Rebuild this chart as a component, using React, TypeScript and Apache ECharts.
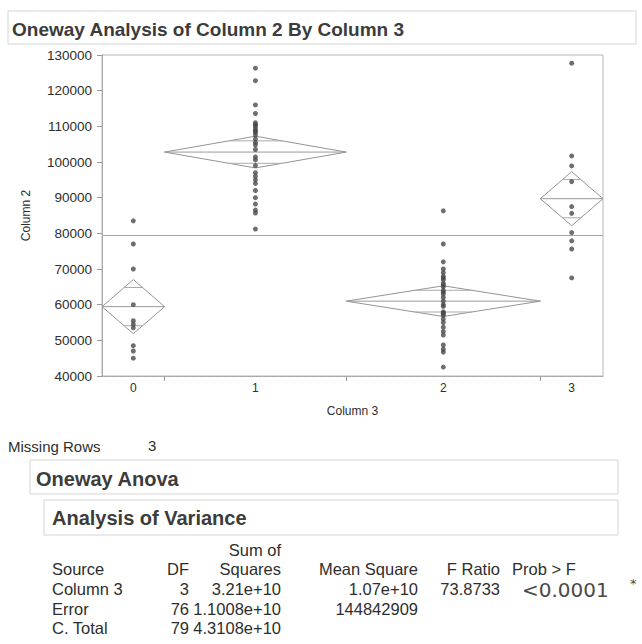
import React, { useEffect, useRef } from "react";
import * as echarts from "echarts";

// ---- data ----
const groupNames = ["0", "1", "2", "3"];
const group0Values = [83500, 77000, 70000, 60000, 55500, 54500, 53500, 48500, 47000, 45000];
const group1Values = [
  126300, 122800, 116000, 113600, 111000, 110500, 110300, 109700, 109000, 108700,
  108300, 107600, 106500, 105500, 104800, 103500, 101400, 100600, 99000, 97000,
  96000, 95000, 94000, 92000, 90000, 88200, 86500, 85700, 81200,
];
const group2Values = [
  86300, 77000, 72000, 70000, 69000, 68000, 67500, 67000, 66000, 65500, 65000,
  64000, 63500, 63000, 62000, 61000, 60000, 59500, 58000, 57500, 57700, 57000,
  56000, 55000, 53700, 52500, 51500, 48700, 47500, 46700, 42500,
];
const group3Values = [127700, 101700, 98900, 94500, 87500, 85600, 80200, 77900, 75600, 67500];

const yMin = 40000;
const yMax = 130000;
const yInterval = 10000;

const titleText = "Oneway Analysis of Column 2 By Column 3";
const yAxisName = "Column 2";
const xAxisName = "Column 3";
const missingRowsLabel = "Missing Rows";
const missingRowsValue = "3";
const anovaHeading = "Oneway Anova";
const varianceHeading = "Analysis of Variance";
const headerTopRow = ["", "", "Sum of", "", "", ""];
const headerRow = ["Source", "DF", "Squares", "Mean Square", "F Ratio", "Prob > F"];
const sourceCol = ["Column 3", "Error", "C. Total"];
const dfCol = ["3", "76", "79"];
const ssCol = ["3.21e+10", "1.1008e+10", "4.3108e+10"];
const msCol = ["1.07e+10", "144842909", ""];
const fCol = ["73.8733", "", ""];
const probNote = "<0.0001";
const probStar = "*";
const mseValue = 144842909;
const tCritical = 1.9917;

const FONT = "Liberation Sans, Arial, sans-serif";

export default function App() {
  const ref = useRef<HTMLDivElement>(null);

  useEffect(() => {
    if (!ref.current) return;
    const chart = echarts.init(ref.current, null, { renderer: "svg" });

    const groups = [group0Values, group1Values, group2Values, group3Values];
    const counts = groups.map((g) => g.length);
    const total = counts.reduce((a, b) => a + b, 0);
    const bounds: number[] = [0];
    counts.forEach((n) => bounds.push(bounds[bounds.length - 1] + n));
    const centers = counts.map((_, i) => (bounds[i] + bounds[i + 1]) / 2);
    const means = groups.map((g) => g.reduce((a, b) => a + b, 0) / g.length);
    const grandMean = groups.flat().reduce((a, b) => a + b, 0) / total;
    const ci = counts.map((n) => tCritical * Math.sqrt(mseValue / n));

    const scatterData = groups.flatMap((g, i) => g.map((v) => [centers[i], v]));
    const diamondData = groups.map((_, i) => [bounds[i], bounds[i + 1], means[i], ci[i]]);

    const grey = "#949494";

    const renderDiamond = (params: any, api: any) => {
      const l = api.value(0);
      const r = api.value(1);
      const m = api.value(2);
      const h = api.value(3);
      const c = (l + r) / 2;
      const pL = api.coord([l, m]);
      const pR = api.coord([r, m]);
      const pT = api.coord([c, m + h]);
      const pB = api.coord([c, m - h]);
      const ov = h * Math.SQRT1_2;
      const hw = ((1 - Math.SQRT1_2) * (r - l)) / 2;
      const o1a = api.coord([c - hw, m + ov]);
      const o1b = api.coord([c + hw, m + ov]);
      const o2a = api.coord([c - hw, m - ov]);
      const o2b = api.coord([c + hw, m - ov]);
      return {
        type: "group",
        children: [
          {
            type: "polygon",
            shape: { points: [pL, pT, pR, pB] },
            style: { fill: "none", stroke: grey, lineWidth: 1 },
          },
          {
            type: "line",
            shape: { x1: pL[0], y1: pL[1], x2: pR[0], y2: pR[1] },
            style: { stroke: "#9a9a9a", lineWidth: 1 },
          },
          {
            type: "line",
            shape: { x1: o1a[0], y1: o1a[1], x2: o1b[0], y2: o1b[1] },
            style: { stroke: "#aaaaaa", lineWidth: 1 },
          },
          {
            type: "line",
            shape: { x1: o2a[0], y1: o2a[1], x2: o2b[0], y2: o2b[1] },
            style: { stroke: "#aaaaaa", lineWidth: 1 },
          },
        ],
      };
    };

    // ---- graphic texts / boxes ----
    const textColor = "#2e2e2e";
    const graphics: any[] = [];
    graphics.push({
      type: "rect",
      shape: { x: 8, y: 11, width: 628, height: 33 },
      style: { fill: "none", stroke: "#d4d4d4", lineWidth: 1 },
    });
    graphics.push({
      type: "text",
      x: 12,
      y: 29,
      style: {
        text: titleText,
        fontFamily: FONT,
        fontSize: 19,
        fontWeight: "bold",
        fill: "#3c3c3c",
        textVerticalAlign: "middle",
      },
    });
    graphics.push({
      type: "text",
      x: 8,
      y: 446,
      style: { text: missingRowsLabel, fontFamily: FONT, fontSize: 15, fill: textColor, textVerticalAlign: "middle" },
    });
    graphics.push({
      type: "text",
      x: 148,
      y: 445,
      style: { text: missingRowsValue, fontFamily: FONT, fontSize: 15, fill: textColor, textVerticalAlign: "middle" },
    });
    graphics.push({
      type: "rect",
      shape: { x: 30, y: 460, width: 588, height: 34 },
      style: { fill: "none", stroke: "#d4d4d4", lineWidth: 1 },
    });
    graphics.push({
      type: "text",
      x: 36,
      y: 479,
      style: {
        text: anovaHeading,
        fontFamily: FONT,
        fontSize: 20,
        fontWeight: "bold",
        fill: "#3c3c3c",
        textVerticalAlign: "middle",
      },
    });
    graphics.push({
      type: "rect",
      shape: { x: 44, y: 500, width: 574, height: 35 },
      style: { fill: "none", stroke: "#d4d4d4", lineWidth: 1 },
    });
    graphics.push({
      type: "text",
      x: 52,
      y: 518,
      style: {
        text: varianceHeading,
        fontFamily: FONT,
        fontSize: 20,
        fontWeight: "bold",
        fill: "#3c3c3c",
        textVerticalAlign: "middle",
      },
    });

    // table columns: [x, align]
    const cols: [number, string][] = [
      [52, "left"],
      [189, "right"],
      [281, "right"],
      [418, "right"],
      [500, "right"],
      [512, "left"],
    ];
    const tableFont = 16.5;
    const addCell = (txt: string, ci2: number, y: number) => {
      if (!txt) return;
      graphics.push({
        type: "text",
        x: cols[ci2][0],
        y,
        style: {
          text: txt,
          fontFamily: FONT,
          fontSize: tableFont,
          fill: textColor,
          textAlign: cols[ci2][1],
          textVerticalAlign: "middle",
        },
      });
    };
    headerTopRow.forEach((t, i) => addCell(t, i, 550));
    headerRow.forEach((t, i) => addCell(t, i, 569));
    const rowY = [589, 609, 628];
    sourceCol.forEach((t, r) => addCell(t, 0, rowY[r]));
    dfCol.forEach((t, r) => addCell(t, 1, rowY[r]));
    ssCol.forEach((t, r) => addCell(t, 2, rowY[r]));
    msCol.forEach((t, r) => addCell(t, 3, rowY[r]));
    fCol.forEach((t, r) => addCell(t, 4, rowY[r]));
    graphics.push({
      type: "text",
      x: 522,
      y: 590,
      style: {
        text: probNote,
        fontFamily: "DejaVu Sans, sans-serif",
        fontSize: 20,
        fill: "#4a4a4a",
        textVerticalAlign: "middle",
      },
    });
    graphics.push({
      type: "text",
      x: 630,
      y: 583,
      style: {
        text: probStar,
        fontFamily: "DejaVu Sans, sans-serif",
        fontSize: 13,
        fill: "#4a4a4a",
        textVerticalAlign: "middle",
      },
    });

    chart.setOption({
      animation: false,
      backgroundColor: "#ffffff",
      grid: {
        left: 102,
        right: 39,
        top: 55,
        bottom: 268,
        show: true,
        borderColor: "#b5b5b5",
        borderWidth: 1,
        backgroundColor: "transparent",
      },
      xAxis: {
        type: "value",
        min: 0,
        max: total,
        name: xAxisName,
        nameLocation: "middle",
        nameGap: 29,
        nameTextStyle: { fontFamily: FONT, fontSize: 12, color: textColor },
        axisLine: { show: true, lineStyle: { color: "#a0a0a0", type: "dotted" } },
        axisTick: {
          show: true,
          length: 5,
          customValues: bounds.slice(1, -1),
          lineStyle: { color: "#999" },
        },
        axisLabel: {
          show: true,
          margin: 6,
          customValues: centers,
          formatter: (v: number) => {
            const idx = centers.findIndex((c) => Math.abs(c - v) < 1e-6);
            return idx >= 0 ? groupNames[idx] : "";
          },
          fontFamily: FONT,
          fontSize: 12,
          color: textColor,
        },
        splitLine: { show: false },
      },
      yAxis: {
        type: "value",
        min: yMin,
        max: yMax,
        interval: yInterval,
        name: yAxisName,
        nameLocation: "middle",
        nameGap: 70,
        nameTextStyle: { fontFamily: FONT, fontSize: 12, color: textColor },
        axisLine: { show: true, lineStyle: { color: "#a0a0a0", type: "dotted" } },
        axisTick: { show: true, length: 5, lineStyle: { color: "#999" } },
        axisLabel: {
          margin: 10,
          fontFamily: FONT,
          fontSize: 13.5,
          color: textColor,
          formatter: (v: number) => String(v),
        },
        splitLine: { show: false },
      },
      graphic: graphics,
      series: [
        {
          type: "custom",
          renderItem: renderDiamond,
          data: diamondData,
          silent: true,
          z: 2,
        },
        {
          type: "scatter",
          data: scatterData,
          symbol: "circle",
          symbolSize: 5,
          itemStyle: { color: "#4a4a4a" },
          z: 3,
          markLine: {
            silent: true,
            symbol: "none",
            label: { show: false },
            lineStyle: { color: "#a5a5a5", type: "solid", width: 1 },
            data: [{ yAxis: grandMean }],
          },
        },
      ],
    });

    return () => chart.dispose();
  }, []);

  return (
    <div
      ref={ref}
      style={{ position: "absolute", left: 0, top: 0, width: 642, height: 644, background: "#fff" }}
    />
  );
}
